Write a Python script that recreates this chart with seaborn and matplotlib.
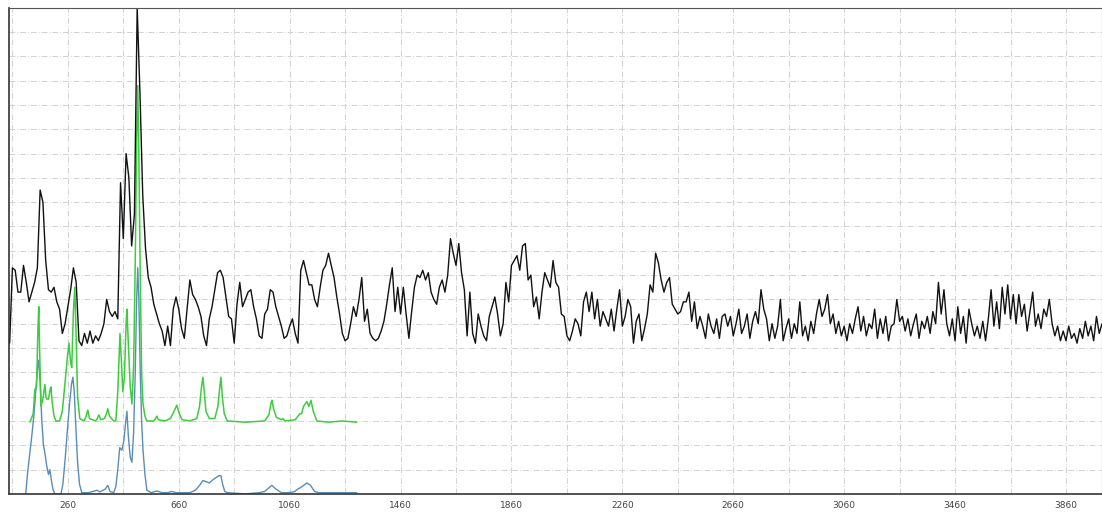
import numpy as np
import pandas as pd
import matplotlib
matplotlib.use("Agg")
import matplotlib.pyplot as plt
import seaborn as sns
from matplotlib.ticker import MultipleLocator, FixedLocator, NullFormatter

# black spectrum, one value every 10 units starting at x=50
black_start = 50
black_step = 10
black_y = [
    6.2,
    9.3, 9.2, 8.3, 8.3, 9.4, 8.7, 7.9, 8.3, 8.7, 9.3, 12.5, 12.0, 9.6, 8.4, 8.3, 8.5, 7.9, 7.6, 6.6, 7.0,
    7.7, 8.4, 9.3, 8.7, 6.3, 6.1, 6.6, 6.2, 6.7, 6.2, 6.5, 6.3, 6.6, 7.0, 8.0, 7.5, 7.3, 7.5, 7.2, 12.8,
    10.5, 14.0, 13.0, 10.2, 11.5, 20.0, 16.5, 12.3, 10.1, 8.9, 8.5, 7.8, 7.4, 7.0, 6.7, 6.1, 6.9, 6.1, 7.6, 8.1,
    7.6, 6.8, 6.4, 7.6, 8.8, 8.2, 8.0, 7.7, 7.3, 6.5, 6.1, 7.2, 7.7, 8.4, 9.1, 9.2, 8.9, 8.1, 7.3, 7.2,
    6.2, 7.8, 8.7, 7.7, 8.0, 8.3, 8.4, 7.7, 7.2, 6.5, 6.4, 7.4, 7.6, 8.4, 8.3, 7.7, 7.3, 6.9, 6.4, 6.5,
    6.9, 7.2, 6.6, 6.2, 9.2, 9.6, 9.1, 8.6, 8.6, 8.0, 7.7, 8.5, 9.2, 9.4, 9.9, 9.4, 8.9, 8.1, 7.4, 6.6,
    6.3, 6.4, 7.0, 7.7, 7.3, 8.0, 8.9, 7.1, 7.6, 6.6, 6.4, 6.3, 6.4, 6.7, 7.1, 7.8, 8.6, 9.3, 7.5, 8.5,
    7.4, 8.5, 7.4, 6.4, 7.5, 8.5, 9.0, 8.9, 9.2, 8.8, 9.1, 8.3, 8.0, 7.8, 8.5, 8.8, 8.3, 9.0, 10.5, 9.9,
    9.4, 10.3, 9.1, 8.4, 6.5, 8.3, 6.6, 6.2, 7.4, 6.9, 6.5, 6.3, 7.3, 7.7, 8.1, 7.4, 6.5, 7.0, 8.7, 7.9,
    9.4, 9.6, 9.8, 9.2, 10.2, 10.3, 8.8, 9.0, 7.7, 8.1, 7.2, 8.3, 9.1, 8.8, 8.5, 9.6, 8.7, 8.5, 7.4, 7.3,
    6.5, 6.3, 6.7, 7.2, 7.0, 6.5, 7.9, 8.3, 7.5, 8.3, 7.2, 8.0, 6.9, 7.5, 7.2, 6.9, 7.6, 6.7, 7.6, 8.4,
    6.9, 7.3, 8.0, 7.7, 6.2, 7.1, 7.4, 6.3, 6.8, 7.4, 8.6, 8.3, 9.9, 9.5, 8.8, 8.3, 8.7, 8.9, 7.8, 7.6,
    7.4, 7.5, 7.9, 7.9, 8.3, 7.1, 7.9, 6.8, 7.3, 6.9, 6.4, 7.4, 6.9, 6.6, 7.2, 6.4, 7.3, 7.4, 6.9,
    7.3, 6.5, 7.0, 7.6, 6.6, 6.9, 7.4, 6.4, 7.1, 7.5, 7.0, 8.4, 7.6, 7.2, 6.3, 7.0, 6.4, 6.9, 8.0, 6.3,
    6.8, 7.2, 6.4, 7.0, 6.6, 7.9, 6.5, 6.9, 6.3, 7.1, 6.6, 7.4, 8.0, 7.3, 7.6, 8.2, 7.0, 7.4, 6.6, 7.1,
    6.5, 6.9, 6.3, 7.0, 6.6, 7.2, 7.7, 6.7, 7.3, 6.5, 7.0, 6.8, 7.6, 6.4, 7.2, 6.6, 7.3, 6.3, 6.9, 7.0,
    8.0, 7.1, 7.3, 6.7, 7.2, 6.5, 7.0, 7.4, 6.4, 7.1, 6.8, 7.3, 6.6, 7.5, 7.0, 8.7, 7.4, 8.4, 7.0, 6.5,
    7.2, 6.3, 7.7, 6.6, 7.3, 6.2, 7.6, 7.0, 6.5, 6.9, 6.4, 7.1, 6.3, 7.2, 8.4, 6.9, 7.9, 6.8, 8.5, 7.4,
    8.6, 7.2, 8.2, 7.0, 8.2, 7.3, 7.8, 6.7, 7.5, 8.3, 6.9, 7.4, 6.8, 7.6, 7.3, 8.0, 7.0, 6.5, 6.9, 6.3,
    6.7, 6.3, 6.9, 6.4, 6.6, 6.2, 6.8, 6.4, 7.1, 6.5, 6.9, 6.3, 7.3, 6.6, 7.0,
]
black_x = black_start + black_step * np.arange(len(black_y))

# green spectrum (offset upward)
green_x = [123, 135, 141, 147, 152, 155, 158, 163, 170, 177, 181, 184, 190, 196, 199, 203, 210, 217,
           230, 240, 250, 258, 264, 270, 274, 280, 285, 290, 295, 303, 318, 326, 332, 338, 360, 366,
           372, 378, 392, 399, 404, 410, 425, 433, 440, 448, 453, 458, 464, 470, 473, 478, 485, 491,
           497, 503, 508, 512, 516, 521, 526, 531, 538, 545, 570, 576, 581, 586, 610, 630, 643, 653,
           662, 672, 700, 725, 735, 742, 747, 752, 758, 770, 790, 801, 808, 812, 817, 824, 835, 900,
           970, 985, 993, 996, 1002, 1012, 1030, 1036, 1042, 1080, 1090, 1097, 1103, 1110, 1122,
           1129, 1137, 1145, 1158, 1200, 1250, 1302]
green_y = [2.95, 3.3, 4.3, 4.4, 6.8, 7.7, 6.0, 3.6, 3.9, 4.5, 4.0, 3.9, 3.9, 4.3, 4.4, 3.8, 3.2, 3.0,
           3.0, 3.4, 4.6, 5.6, 6.2, 5.4, 5.2, 7.5, 8.5, 6.4, 4.0, 3.1, 3.0, 3.2, 3.45, 3.1, 3.0, 3.1,
           3.25, 3.05, 3.1, 3.3, 3.5, 3.2, 3.0, 3.0, 4.2, 6.6, 5.5, 4.2, 4.8, 7.0, 7.6, 6.2, 4.4, 3.7,
           5.2, 9.5, 14.5, 16.8, 14.0, 9.0, 5.0, 3.7, 3.2, 3.0, 3.0, 3.1, 3.2, 3.05, 3.0, 3.1, 3.4, 3.65,
           3.3, 3.05, 3.0, 3.1, 3.6, 4.4, 4.8, 4.2, 3.4, 3.1, 3.1, 3.6, 4.4, 4.8, 4.0, 3.3, 3.0, 2.95,
           3.0, 3.25, 3.75, 3.85, 3.5, 3.15, 3.05, 3.1, 3.0, 3.05, 3.2, 3.3, 3.3, 3.6, 3.8,
           3.6, 3.85, 3.4, 3.0, 2.95, 3.0, 2.95]

# blue spectrum (bottom)
blue_x = [108, 115, 122, 130, 138, 146, 151, 155, 160, 166, 172, 177, 183, 190, 195, 200, 206, 213,
          235, 242, 250, 258, 266, 273, 278, 283, 289, 295, 302, 310, 335, 350, 365, 375, 395, 404,
          412, 425, 433, 440, 447, 455, 462, 469, 473, 478, 485, 491, 497, 503, 508, 512, 516, 521,
          526, 531, 538, 545, 560, 581, 600, 620, 634, 650, 680, 700, 720, 735, 747, 760, 770, 785,
          805, 812, 818, 826, 835, 900, 950, 970, 985, 996, 1010, 1030, 1050, 1075, 1090, 1105,
          1122, 1135, 1150, 1165, 1250, 1302]
blue_y = [0.0, 0.9, 1.6, 2.4, 3.3, 4.5, 5.2, 5.5, 4.6, 3.0, 2.0, 1.7, 1.2, 0.8, 1.0, 0.6, 0.2, 0.0,
          0.0, 0.4, 1.4, 2.6, 3.7, 4.5, 4.8, 4.2, 2.7, 1.3, 0.4, 0.05, 0.05, 0.1, 0.15, 0.08, 0.2, 0.35,
          0.1, 0.05, 0.3, 1.0, 1.9, 1.8, 2.2, 3.0, 3.4, 2.4, 1.5, 1.3, 2.5, 5.0, 8.0, 9.3, 8.0, 5.0,
          3.0, 1.8, 0.8, 0.15, 0.05, 0.12, 0.05, 0.05, 0.1, 0.05, 0.05, 0.05, 0.15, 0.35, 0.55, 0.5, 0.45, 0.6,
          0.75, 0.75, 0.4, 0.1, 0.05, 0.0, 0.05, 0.1, 0.25, 0.35, 0.2, 0.05, 0.05, 0.08, 0.2, 0.3,
          0.45, 0.35, 0.1, 0.05, 0.05, 0.05]

tick_labels = ["260", "660", "1060", "1460", "1860", "2260", "2660", "3060", "3460", "3860"]

sns.set_style("white")
fig = plt.figure(figsize=(11.02, 5.15), dpi=100)
ax = fig.add_axes([0.008, 0.041, 0.992, 0.944])

sns.lineplot(x=blue_x, y=blue_y, ax=ax, color="#5a8db5", lw=1.0, sort=False, estimator=None)
sns.lineplot(x=green_x, y=green_y, ax=ax, color="#3dcc3d", lw=1.1, sort=False, estimator=None)
sns.lineplot(x=black_x, y=black_y, ax=ax, color="#111111", lw=1.0, sort=False, estimator=None)

ax.set_xlim(47, 3990)
ax.set_ylim(0, 20)

ax.xaxis.set_major_locator(FixedLocator([int(t) for t in tick_labels]))
ax.set_xticklabels(tick_labels)
ax.xaxis.set_minor_locator(FixedLocator([60 + 400 * k for k in range(10)]))
ax.yaxis.set_major_locator(MultipleLocator(1))
ax.yaxis.set_major_formatter(NullFormatter())

ax.grid(True, which="both", axis="x", color="#d2d2d2", ls=(0, (6, 2, 1, 2)), lw=0.7)
ax.grid(True, which="major", axis="y", color="#d2d2d2", ls=(0, (6, 2, 1, 2)), lw=0.7)
ax.set_axisbelow(True)

ax.tick_params(axis="x", which="major", direction="out", length=4, width=0.8,
               labelsize=6.5, labelcolor="#444444", color="#333333", pad=1)
ax.tick_params(axis="x", which="minor", length=0)
ax.tick_params(axis="y", length=0)

for side in ["left", "bottom"]:
    ax.spines[side].set_color("#333333")
    ax.spines[side].set_linewidth(1.2)
for side in ["top", "right"]:
    ax.spines[side].set_color("#555555")
    ax.spines[side].set_linewidth(0.8)

ax.set_xlabel("")
ax.set_ylabel("")

fig.savefig("out.png", dpi=100)
